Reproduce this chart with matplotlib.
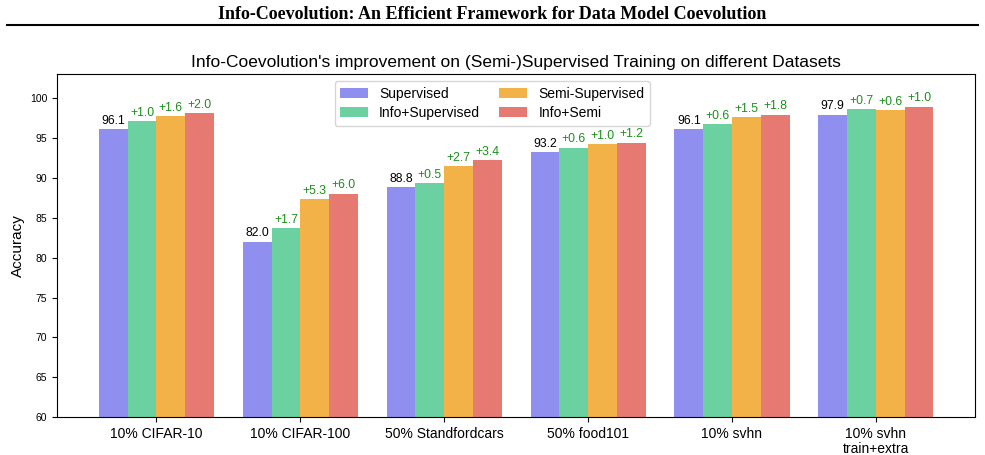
import numpy as np
import matplotlib
matplotlib.use("Agg")
import matplotlib.pyplot as plt

datasets = ["10% CIFAR-10", "10% CIFAR-100", "50% Standfordcars", "50% food101",
            "10% svhn", "10% svhn\ntrain+extra"]
supervised = [96.1, 82.0, 88.8, 93.2, 96.1, 97.9]
info_sup_gain = [1.0, 1.7, 0.5, 0.6, 0.6, 0.7]
semi_gain = [1.6, 5.3, 2.7, 1.0, 1.5, 0.6]
info_semi_gain = [2.0, 6.0, 3.4, 1.2, 1.8, 1.0]

series_names = ["Supervised", "Info+Supervised", "Semi-Supervised", "Info+Semi"]
colors = ["#8f8ff0", "#6bd1a0", "#f3b247", "#e67a73"]

plt.rcParams['font.family'] = ['Liberation Sans', 'DejaVu Sans']

fig = plt.figure(figsize=(9.85, 4.55), dpi=100)
fig.text(0.5, 0.968, "Info-Coevolution: An Efficient Framework for Data Model Coevolution",
         ha='center', va='center', fontsize=13, fontweight='bold', family='Liberation Serif')
fig.add_artist(plt.Line2D([0.007, 0.993], [0.944, 0.944], color='black', lw=1.5))

ax = fig.add_axes([0.058, 0.083, 0.932, 0.754])

x = np.arange(len(datasets))
w = 0.2
sup = np.array(supervised)
vals = [sup, sup + np.array(info_sup_gain), sup + np.array(semi_gain), sup + np.array(info_semi_gain)]
gains = [None, info_sup_gain, semi_gain, info_semi_gain]

for i, (v, name, c) in enumerate(zip(vals, series_names, colors)):
    pos = x + (i - 1.5) * w
    ax.bar(pos, v, w, color=c, label=name)
    for j, (p, h) in enumerate(zip(pos, v)):
        if gains[i] is None:
            ax.text(p, h + 0.3, f"{h:.1f}", ha='center', va='bottom', fontsize=8.8, color='black')
        else:
            ax.text(p, h + 0.3, f"+{gains[i][j]:.1f}", ha='center', va='bottom', fontsize=8.8,
                    color='#1a8f1a')

ax.set_ylim(60, 103)
ax.set_xticks(x)
ax.set_xticklabels(datasets, fontsize=10, linespacing=1.05)
ax.tick_params(axis='y', labelsize=7.5)
ax.set_ylabel("Accuracy", fontsize=11)
ax.set_title("Info-Coevolution's improvement on (Semi-)Supervised Training on different Datasets",
             fontsize=12.5, pad=5)
ax.legend(loc='upper center', ncol=2, fontsize=10, bbox_to_anchor=(0.474, 1.0),
          columnspacing=1.4, labelspacing=0.4)

fig.savefig("out.png", dpi=100)
